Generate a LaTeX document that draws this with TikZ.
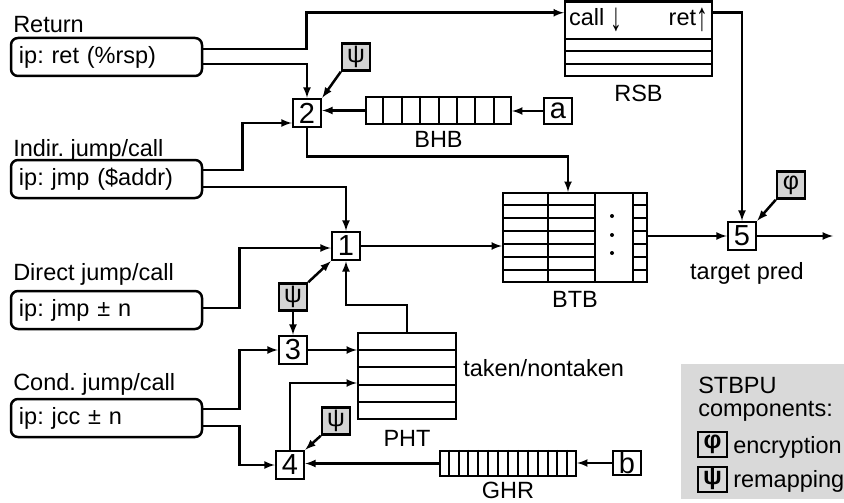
\documentclass[tikz,border=0pt]{standalone}
\usepackage{fontspec}
\setmainfont{Liberation Sans}
\usepackage{tikz}
\usetikzlibrary{arrows,calc,positioning}
\definecolor{keygray}{gray}{0.83}
\definecolor{panelgray}{gray}{0.85}
\newcommand{\tallarrow}[1]{\raisebox{-5pt}{\scalebox{1}[1.7]{#1}}}
\frenchspacing

\begin{document}
\begin{tikzpicture}[>=latex, x=1pt, y=1pt, line width=2.5pt,
	every node/.style={font=\fontsize{23.5}{28}\selectfont, inner sep=0pt},
	instr/.style={draw, rounded corners=7pt, text width=175pt, inner xsep=8pt, minimum height=38pt, align=left},
	stage/.style={draw, fill=white, minimum width=28pt, minimum height=28pt, font=\fontsize{29}{30}\selectfont},
	key/.style={draw, fill=keygray, minimum width=28pt, minimum height=27pt, font=\fontsize{25}{28}\selectfont},
	reg/.style={draw, line width=2.3pt},
	cell/.style={line width=2pt}]
	\useasboundingbox (0,0) rectangle (844,-503);
	% branch kinds
	\node[anchor=base west] (retlbl) at (12,-33) {Return};
	\node[instr] (retbox) at (106.5,-57) {ip: ret (\%rsp)};
	\node[anchor=base west] (indlbl) at (12,-157) {Indir. jump/call};
	\node[instr] (indbox) at (106.5,-179) {ip: jmp (\$addr)};
	\node[anchor=base west] (dirlbl) at (12,-280) {Direct jump/call};
	\node[instr] (dirbox) at (106.5,-310) {ip: jmp ± n};
	\node[anchor=base west] (condlbl) at (12,-390) {Cond. jump/call};
	\node[instr] (condbox) at (106.5,-418) {ip: jcc ± n};
	% numbered steps
	\node[stage] (s1) at (346,-246) {1};
	\node[stage] (s2) at (307,-113) {2};
	\node[stage] (s3) at (293,-350) {3};
	\node[stage] (s4) at (290,-465) {4};
	\node[stage] (s5) at (742,-236) {5};
	\node[stage, minimum height=26pt] (ina) at (558,-111) {a};
	\node[stage, minimum height=24pt] (inb) at (627,-463) {b};
	\node[key] (psia) at (356,-57)  {ψ};
	\node[key] (psib) at (293,-297) {ψ};
	\node[key] (psic) at (336,-421) {ψ};
	\node[key] (phia) at (791,-185) {φ};
	\coordinate (predout) at (833,-236);
	% RSB
	\node[reg, minimum width=147pt, minimum height=74.5pt] (rsb) at (638.5,-38.75) {};
	\foreach \f in {0.5,0.665,0.83}
		\draw[cell] ($(rsb.north west)!\f!(rsb.south west)$) -- ($(rsb.north east)!\f!(rsb.south east)$);
	\node[anchor=base west] (rsbcall) at ([shift={(4,-25)}]rsb.north west) {call \tallarrow{↓}};
	\node[anchor=base east] (rsbret) at ([shift={(-4,-25)}]rsb.north east) {ret\tallarrow{↑}};
	\node[below=7pt of rsb] (rsblbl) {RSB};
	% BHB
	\node[reg, minimum width=145pt, minimum height=27pt] (bhb) at (438.5,-110.5) {};
	\foreach \i in {1,...,7}
		\draw[cell] ($(bhb.north west)!{\i/8}!(bhb.north east)$) -- ($(bhb.south west)!{\i/8}!(bhb.south east)$);
	\node[below=5pt of bhb] (bhblbl) {BHB};
	% BTB
	\node[reg, minimum width=144pt, minimum height=89pt] (btb) at (575,-237.5) {};
	\foreach \f in {0.3125,0.639,0.896}
		\draw[cell] ($(btb.north west)!\f!(btb.north east)$) -- ($(btb.south west)!\f!(btb.south east)$);
	\foreach \r in {1,...,6} {
		\draw[cell] ($(btb.north west)!{\r/7}!(btb.south west)$) -- ++(92,0);
		\draw[cell] ($(btb.north east)!{\r/7}!(btb.south east)$) -- ++(-15,0);
	}
	\foreach \dy in {21.5,2.5,-15.5}
		\fill ([shift={(37,\dy)}]btb.center) circle (2pt);
	\node[below=7pt of btb] (btblbl) {BTB};
	% PHT
	\node[reg, minimum width=98pt, minimum height=86pt] (pht) at (407,-376) {};
	\foreach \r in {1,...,4}
		\draw[cell] ($(pht.north west)!{\r/5}!(pht.south west)$) -- ($(pht.north east)!{\r/5}!(pht.south east)$);
	\node[below=9pt of pht] (phtlbl) {PHT};
	\node[anchor=west] (phtnote) at (462,-368) {taken/nontaken};
	% GHR
	\node[reg, minimum width=136pt, minimum height=25pt] (ghr) at (508,-463.5) {};
	\foreach \i in {1,...,13}
		\draw[cell] ($(ghr.north west)!{\i/14}!(ghr.north east)$) -- ($(ghr.south west)!{\i/14}!(ghr.south east)$);
	\node[below=4pt of ghr] (ghrlbl) {GHR};
	\node[below=10pt of s5, xshift=5pt] (s5lbl) {target pred};
	% legend
	\node[fill=panelgray, minimum width=164pt, minimum height=135pt, anchor=north west] (panel) at (680,-363) {};
	\node[anchor=base west] (panelhead) at (697,-393) {STBPU};
	\node[anchor=base west] (panelsub) at (697,-416) {components:};
	\node[key, fill=panelgray, minimum width=29pt, minimum height=25pt, line width=2pt] (keyphi) at (712.5,-444.5) {\textbf{φ}};
	\node[anchor=base west] (keyphitxt) at (732,-453) {encryption};
	\node[key, fill=panelgray, minimum width=29pt, minimum height=25pt, line width=2pt] (keypsi) at (712.5,-479) {\textbf{ψ}};
	\node[anchor=base west] (keypsitxt) at (732,-487) {remapping};
	% connectors
	\draw[->] ([yshift=8pt]retbox.east) -- ++(103,0) |- ([yshift=26pt]rsb.west);
	\draw[->] ([yshift=-7pt]retbox.east) -| (s2.north);
	\draw[->] (psia.south west) -- (s2.north east);
	\draw[->] (bhb.west) -- (bhb.west -| s2.east);
	\draw[->] (ina.west) -- (ina.west -| bhb.east);
	\draw[->] ([yshift=9pt]indbox.east) -- ++(39,0) |- ([yshift=-10pt]s2.west);
	\draw[->] (s2.south) -- ++(0,-28) -| ([xshift=-7pt]btb.north);
	\draw[->] ([yshift=-8pt]indbox.east) -| (s1.north);
	\draw[->] ([yshift=2pt]dirbox.east) -- ++(36,0) |- ([yshift=-2pt]s1.west);
	\draw[->] (psib.north east) -- (s1.south west);
	\draw[->] (pht.north) -- ++(0,27) -| (s1.south);
	\draw[->] (psib.south) -- (s3.north);
	\draw[->] ([yshift=9pt]condbox.east) -- ++(36,0) |- (s3.west);
	\draw[->] (s3.east) -- (s3.east -| pht.west);
	\draw[->] ([yshift=-8pt]condbox.east) -- ++(36,0) |- (s4.west);
	\draw[->] (s4.north) |- ([yshift=-7pt]pht.west);
	\draw[->] (psic.south west) -- (s4.north east);
	\draw[->] (ghr.west) -- (ghr.west -| s4.east);
	\draw[->] (inb.west) -- (inb.west -| ghr.east);
	\draw[->] (s1.east) -- (s1.east -| btb.west);
	\draw[->] (s5.west -| btb.east) -- (s5.west);
	\draw[->] ([yshift=26pt]rsb.east) -| (s5.north);
	\draw[->] (phia.south west) -- (s5.north east);
	\draw[->] (s5.east) -- (predout);
\end{tikzpicture}
\end{document}
